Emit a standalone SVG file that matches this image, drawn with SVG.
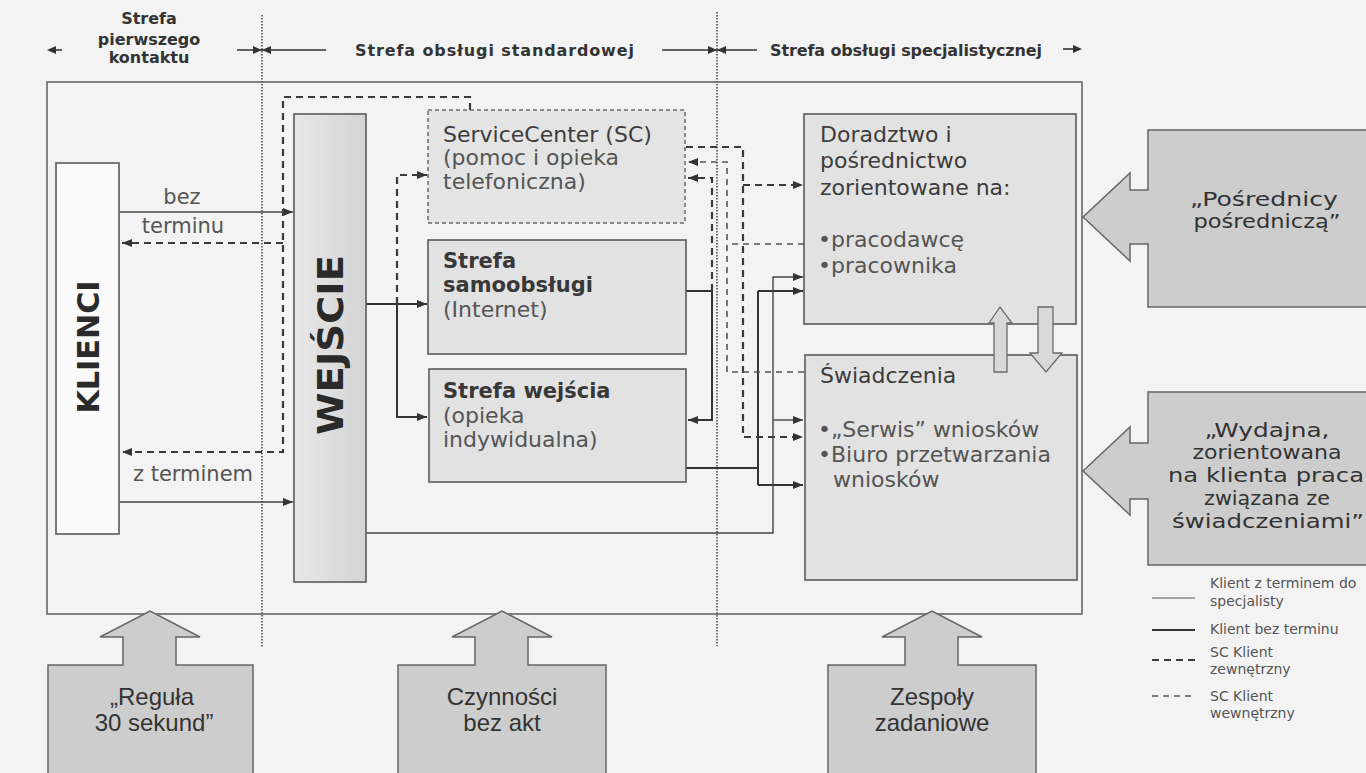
<svg xmlns="http://www.w3.org/2000/svg" width="1366" height="773" viewBox="0 0 1366 773">
  <defs>
    <linearGradient id="gEntry" x1="0" y1="0" x2="1" y2="0">
      <stop offset="0" stop-color="#e8e8e8"/>
      <stop offset="1" stop-color="#d4d4d4"/>
    </linearGradient>
    <marker id="ah" viewBox="0 0 10 8" refX="10" refY="4" markerWidth="10" markerHeight="8" markerUnits="userSpaceOnUse" orient="auto">
      <path d="M0,0 L10,4 L0,8 z" fill="#333"/>
    </marker>
    <style>
      .frame{fill:none;stroke:#666;stroke-width:1.6}
      .box{fill:#e2e2e2;stroke:#5a5a5a;stroke-width:1.6}
      .client{fill:#fafafa;stroke:#5a5a5a;stroke-width:1.6}
      .entry{fill:url(#gEntry);stroke:#5a5a5a;stroke-width:1.6}
      .sc{fill:#e4e4e4;stroke:#6a6a6a;stroke-width:1.5;stroke-dasharray:4 3}
      .zone{fill:none;stroke:#444;stroke-width:1.5;stroke-dasharray:1.5 1.5}
      .solid{fill:none;stroke:#333;stroke-width:2}
      .thin{fill:none;stroke:#444;stroke-width:1.4}
      .ext{fill:none;stroke:#3a3a3a;stroke-width:2.2;stroke-dasharray:7 5}
      .int{fill:none;stroke:#555;stroke-width:1.6;stroke-dasharray:6 5}
      .blk{fill:#cdcdcd;stroke:#666;stroke-width:1.5}
      .blk2{fill:#d8d8d8;stroke:#6a6a6a;stroke-width:1.3}
      text{font-family:"DejaVu Sans",Verdana,sans-serif;fill:#3c3c3c}
      .hd{font-size:16px;font-weight:bold;fill:#333}
      .t{font-size:22px}
      .tb{font-size:21px;font-weight:bold;fill:#383838}
      .lt{fill:#555}
      .lbl{font-size:21px;fill:#555}
      .big{font-size:20px;fill:#333;text-anchor:middle}
      .cond{font-family:"Liberation Sans",Arial,sans-serif;font-size:24px;fill:#333;text-anchor:middle}
      .leg{font-size:14px;fill:#555}
      .vt{font-weight:bold;fill:#2a2a2a;text-anchor:middle}
    </style>
  </defs>

  <rect width="1366" height="773" fill="#f3f3f3"/>

  <!-- zone headers -->
  <g id="headers">
    <text class="hd" x="149" y="24" text-anchor="middle">Strefa</text>
    <text class="hd" x="149" y="45" text-anchor="middle">pierwszego</text>
    <text class="hd" x="149" y="63" text-anchor="middle">kontaktu</text>
    <text class="hd" x="355" y="56" textLength="279" lengthAdjust="spacing">Strefa obsługi standardowej</text>
    <text class="hd" x="770" y="56" textLength="272" lengthAdjust="spacing">Strefa obsługi specjalistycznej</text>
    <!-- zone extent arrows -->
    <path d="M50,50 H62" stroke="#333" stroke-width="1.6"/>
    <path d="M47,50 L56,46 L56,54 z" fill="#333"/>
    <path d="M237,50 H326 M662,50 H757" stroke="#333" stroke-width="1.6"/>
    <path d="M262,50 L253,46 L253,54 z M262,50 L271,46 L271,54 z" fill="#333"/>
    <path d="M717,50 L708,46 L708,54 z M717,50 L726,46 L726,54 z" fill="#333"/>
    <path d="M1063,49 H1075" stroke="#333" stroke-width="1.6"/>
    <path d="M1082,49 L1073,45 L1073,53 z" fill="#333"/>
  </g>

  <!-- zone separators -->
  <path class="zone" d="M262,15 V648 M717,12 V646"/>

  <!-- outer frame -->
  <rect class="frame" x="47" y="82" width="1035" height="532"/>

  <!-- connectors -->
  <g id="connectors">
    <!-- clients to entry -->
    <path class="thin" d="M120,212 H293" marker-end="url(#ah)"/>
    <path class="thin" d="M120,502 H293" marker-end="url(#ah)"/>
    <!-- ServiceCenter back to clients -->
    <path class="ext" d="M470,110 V97 H283 V452 H122" marker-end="url(#ah)"/>
    <path class="ext" d="M283,243 H122" marker-end="url(#ah)"/>
    <!-- entry to service zones -->
    <path class="solid" d="M366,304 H427" marker-end="url(#ah)"/>
    <path class="solid" d="M397,304 V417 H427" marker-end="url(#ah)"/>
    <path class="ext" d="M397,304 V175 H427" marker-end="url(#ah)"/>
    <!-- self-service to entry zone / ServiceCenter -->
    <path class="solid" d="M686,291 H712 V420 H688" marker-end="url(#ah)"/>
    <path class="ext" d="M712,291 V178 H688" marker-end="url(#ah)"/>
    <!-- clients without appointment to specialists -->
    <path class="solid" d="M686,468 H758"/>
    <path class="solid" d="M758,291 V485"/>
    <path class="solid" d="M758,291 H803" marker-end="url(#ah)"/>
    <path class="solid" d="M758,485 H803" marker-end="url(#ah)"/>
    <!-- clients with appointment to specialists -->
    <path class="thin" d="M366,533 H773 V277 H803" marker-end="url(#ah)"/>
    <path class="thin" d="M773,420 H803" marker-end="url(#ah)"/>
    <!-- ServiceCenter external clients -->
    <path class="ext" d="M686,147 H743 V437 H803" marker-end="url(#ah)"/>
    <path class="ext" d="M743,185 H803" marker-end="url(#ah)"/>
    <!-- ServiceCenter internal clients -->
    <path class="int" d="M804,372 H727 V162 H688" marker-end="url(#ah)"/>
    <path class="int" d="M804,244 H727"/>
  </g>

  <text class="lbl" x="182" y="204" text-anchor="middle">bez</text>
  <text class="lbl" x="183" y="233" text-anchor="middle">terminu</text>
  <text class="lbl" x="193" y="481" text-anchor="middle">z terminem</text>

  <g id="klienci">
    <rect class="client" x="56" y="163" width="63" height="371"/>
    <text class="vt" font-size="30" textLength="133" lengthAdjust="spacingAndGlyphs" transform="translate(99,347) rotate(-90)">KLIENCI</text>
  </g>

  <g id="wejscie">
    <rect class="entry" x="294" y="114" width="72" height="468"/>
    <text class="vt" font-size="36" textLength="180" lengthAdjust="spacingAndGlyphs" transform="translate(343,345) rotate(-90)">WEJŚCIE</text>
  </g>

  <g id="service-center">
    <rect class="sc" x="428" y="110" width="257" height="113"/>
    <text class="t" x="443" y="142">ServiceCenter (SC)</text>
    <text class="t lt" x="443" y="165">(pomoc i opieka</text>
    <text class="t lt" x="443" y="189">telefoniczna)</text>
  </g>

  <g id="samoobsluga">
    <rect class="box" x="428" y="240" width="258" height="114"/>
    <text class="tb" x="443" y="268">Strefa</text>
    <text class="tb" x="443" y="292">samoobsługi</text>
    <text class="t lt" x="443" y="317">(Internet)</text>
  </g>

  <g id="strefa-wejscia">
    <rect class="box" x="429" y="369" width="257" height="113"/>
    <text class="tb" x="443" y="398">Strefa wejścia</text>
    <text class="t lt" x="443" y="423">(opieka</text>
    <text class="t lt" x="443" y="447">indywidualna)</text>
  </g>

  <g id="doradztwo">
    <rect class="box" x="804" y="114" width="272" height="210"/>
    <text class="t" x="820" y="142">Doradztwo i</text>
    <text class="t" x="820" y="168">pośrednictwo</text>
    <text class="t" x="820" y="195">zorientowane na:</text>
    <text class="t lt" x="818" y="247">•pracodawcę</text>
    <text class="t lt" x="818" y="273">•pracownika</text>
  </g>

  <g id="swiadczenia">
    <rect class="box" x="805" y="355" width="272" height="225"/>
    <text class="t" x="820" y="383">Świadczenia</text>
    <text class="t lt" x="818" y="437">•„Serwis” wniosków</text>
    <text class="t lt" x="818" y="462">•Biuro przetwarzania</text>
    <text class="t lt" x="833" y="487">wniosków</text>
  </g>

  <!-- exchange between specialist units -->
  <g id="exchange">
    <path class="blk2" d="M994,372 V323 H989 L1000,307 L1012,323 H1007 V372 Z"/>
    <path class="blk2" d="M1038,307 H1053 V353 H1062 L1046,372 L1030,353 H1038 Z"/>
  </g>

  <g id="posrednicy">
    <path class="blk" d="M1380,130 H1148 V190 H1130 V173 L1083,217 L1130,261 V244 H1148 V307 H1380 Z"/>
    <text class="big" x="1264" y="206" textLength="148" lengthAdjust="spacingAndGlyphs">„Pośrednicy</text>
    <text class="big" x="1267" y="228" textLength="147" lengthAdjust="spacingAndGlyphs">pośredniczą”</text>
  </g>

  <g id="wydajna">
    <path class="blk" d="M1380,392 H1148 V443 H1130 V427 L1083,471 L1130,515 V499 H1148 V565 H1380 Z"/>
    <text class="big" x="1267" y="437" textLength="125" lengthAdjust="spacingAndGlyphs">„Wydajna,</text>
    <text class="big" x="1267" y="459" textLength="149" lengthAdjust="spacingAndGlyphs">zorientowana</text>
    <text class="big" x="1266" y="482" textLength="196" lengthAdjust="spacingAndGlyphs">na klienta praca</text>
    <text class="big" x="1267" y="505" textLength="126" lengthAdjust="spacingAndGlyphs">związana ze</text>
    <text class="big" x="1268" y="528" textLength="192" lengthAdjust="spacingAndGlyphs">świadczeniami”</text>
  </g>

  <g id="regula">
    <path class="blk" d="M48,780 V665 H123 V637 H100 L150,611 L200,637 H176 V665 H253 V780 Z"/>
    <text class="cond" x="152" y="705">„Reguła</text>
    <text class="cond" x="154" y="731">30 sekund”</text>
  </g>

  <g id="czynnosci">
    <path class="blk" d="M398,780 V665 H475 V637 H452 L502,611 L552,637 H528 V665 H606 V780 Z"/>
    <text class="cond" x="502" y="705">Czynności</text>
    <text class="cond" x="502" y="731">bez akt</text>
  </g>

  <g id="zespoly">
    <path class="blk" d="M828,780 V665 H905 V637 H882 L932,611 L982,637 H958 V665 H1036 V780 Z"/>
    <text class="cond" x="932" y="705">Zespoły</text>
    <text class="cond" x="932" y="731">zadaniowe</text>
  </g>

  <g id="legend">
    <path d="M1152,598 H1195" stroke="#555" stroke-width="1.2"/>
    <text class="leg" x="1210" y="588">Klient z terminem do</text>
    <text class="leg" x="1210" y="606">specjalisty</text>
    <path d="M1152,630 H1195" stroke="#333" stroke-width="2"/>
    <text class="leg" x="1210" y="634">Klient bez terminu</text>
    <path d="M1152,660 H1195" stroke="#3a3a3a" stroke-width="2.2" stroke-dasharray="7 5"/>
    <text class="leg" x="1210" y="657">SC Klient</text>
    <text class="leg" x="1210" y="674">zewnętrzny</text>
    <path d="M1152,696 H1195" stroke="#555" stroke-width="1.5" stroke-dasharray="6 5"/>
    <text class="leg" x="1210" y="701">SC Klient</text>
    <text class="leg" x="1210" y="718">wewnętrzny</text>
  </g>
</svg>
